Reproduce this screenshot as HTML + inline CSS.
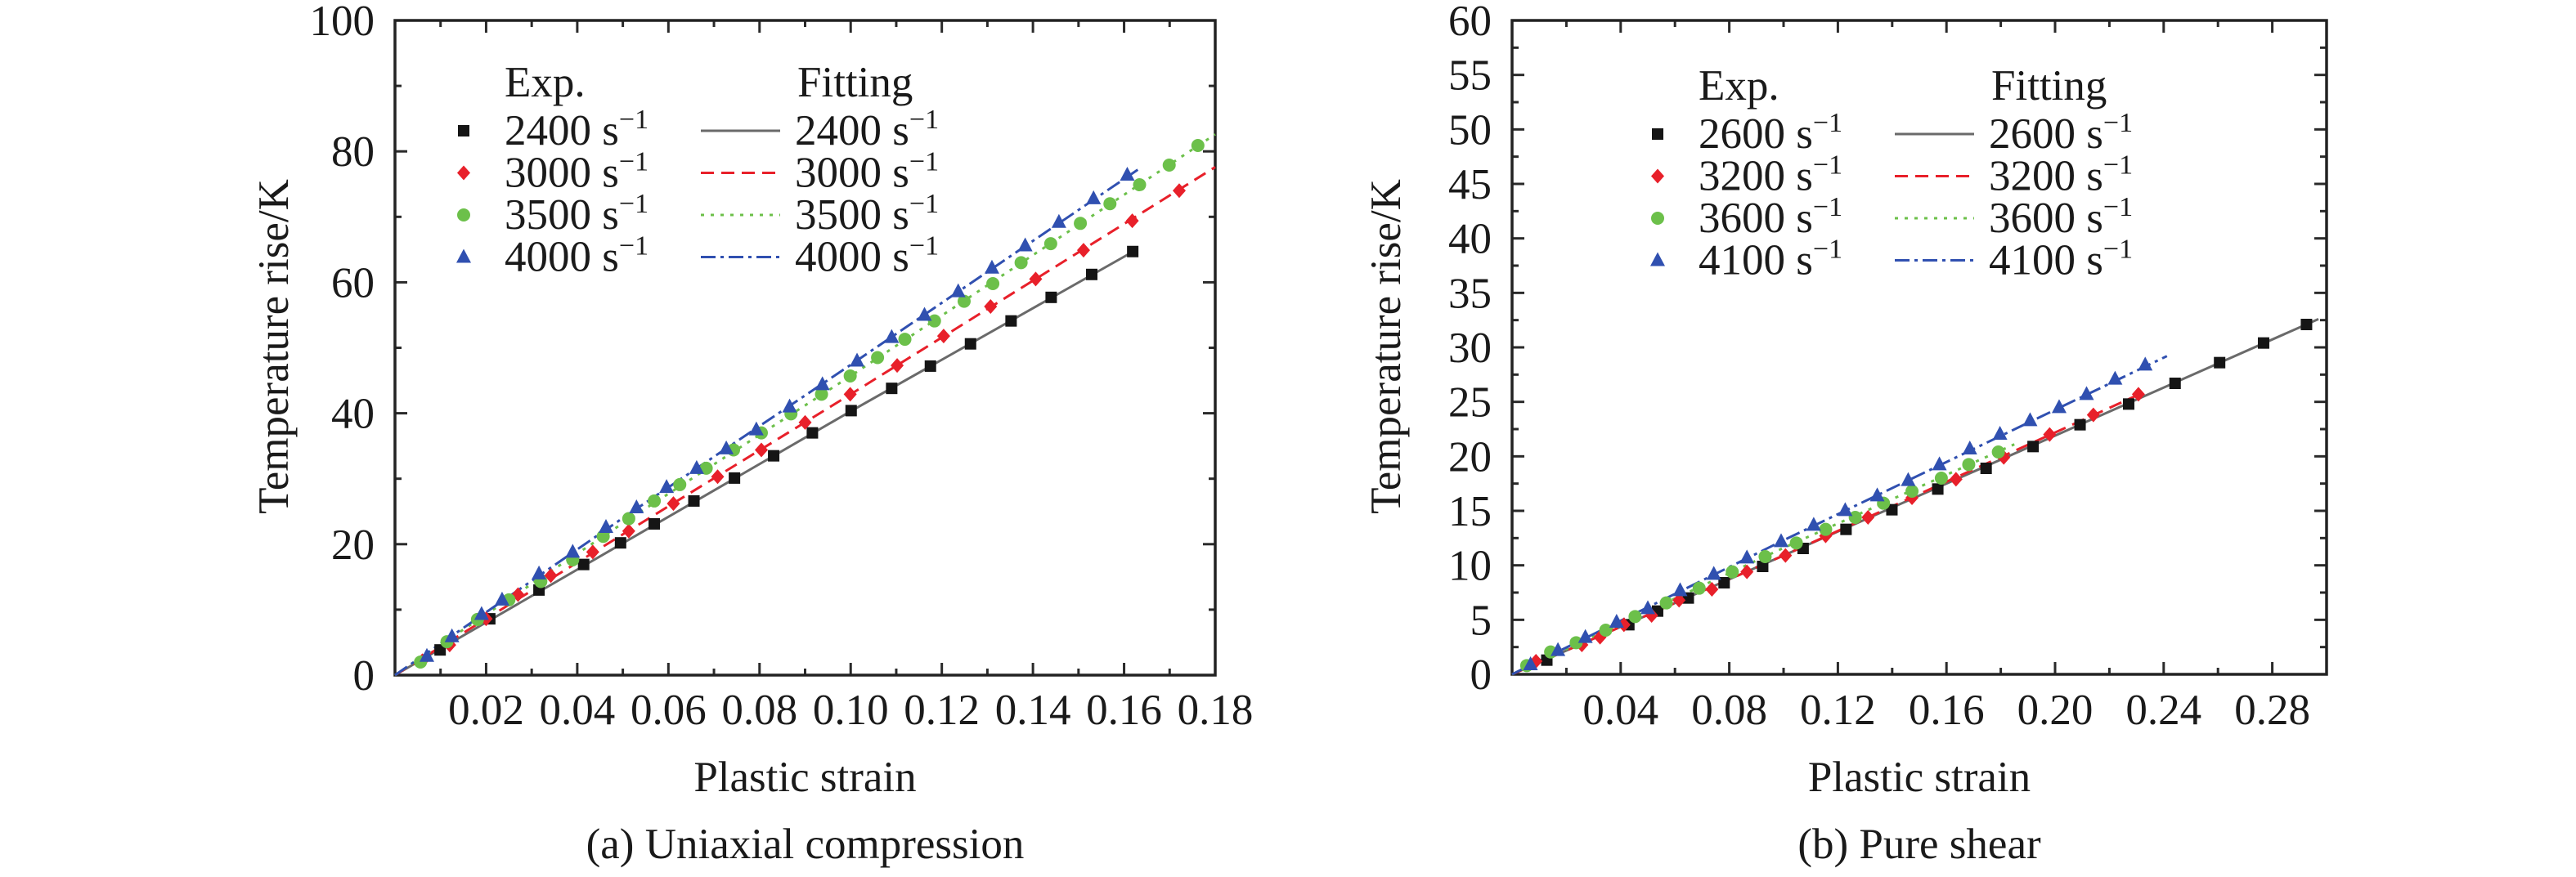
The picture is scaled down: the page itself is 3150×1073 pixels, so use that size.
<!DOCTYPE html>
<html><head><meta charset="utf-8">
<style>
html,body{margin:0;padding:0;background:#fff;}
svg{display:block;}
svg text{font-family:"Liberation Serif","Times New Roman",serif;}
</style></head>
<body>
<svg id="fig" width="3150" height="1073" viewBox="0 0 3150 1073" xmlns="http://www.w3.org/2000/svg" font-family="Liberation Serif, serif">
<rect width="3150" height="1073" fill="#fff"/>
<g id="pa" font-family="Liberation Serif, serif"></g>
<g id="pb" font-family="Liberation Serif, serif"></g>
</svg>
<script>
// ---- Panel (a) data ----
const aXTicks = [0.02,0.04,0.06,0.08,0.10,0.12,0.14,0.16,0.18];
const aXTickLabels = ["0.02","0.04","0.06","0.08","0.10","0.12","0.14","0.16","0.18"];
const aYTicks = [0,20,40,60,80,100];
const aYTickLabels = ["0","20","40","60","80","100"];
const aExp2400 = [[0.0099,3.85],[0.0208,8.6],[0.0316,13.0],[0.0414,16.9],[0.0495,20.2],[0.0569,23.1],[0.0656,26.6],[0.0745,30.1],[0.0831,33.5],[0.0916,37.0],[0.1001,40.4],[0.109,43.8],[0.1175,47.2],[0.1263,50.6],[0.1352,54.1],[0.144,57.7],[0.1529,61.2],[0.1619,64.7]];
const aExp3000 = [[0.006,2.2],[0.012,4.6],[0.02,8.6],[0.027,12.3],[0.0342,15.2],[0.0434,18.8],[0.0513,22.0],[0.0611,26.2],[0.0708,30.3],[0.0804,34.4],[0.09,38.6],[0.0999,42.9],[0.1102,47.3],[0.1204,51.8],[0.1307,56.3],[0.1406,60.5],[0.1511,64.9],[0.1618,69.4],[0.1721,74.0]];
const aExp3500 = [[0.0056,2.0],[0.0114,5.1],[0.0181,8.5],[0.025,11.5],[0.032,14.3],[0.039,17.6],[0.0457,21.2],[0.0513,23.9],[0.0569,26.6],[0.0625,29.1],[0.0683,31.6],[0.0743,34.4],[0.0804,37.0],[0.0869,39.9],[0.0936,42.9],[0.0999,45.7],[0.1059,48.5],[0.1119,51.3],[0.1184,54.1],[0.1249,57.1],[0.1312,59.8],[0.1374,63.0],[0.1439,65.9],[0.1504,69.0],[0.1569,72.0],[0.1634,74.9],[0.1699,77.9],[0.1762,80.9]];
const aExp4000 = [[0.007,2.9],[0.0125,5.9],[0.019,9.3],[0.0235,11.5],[0.0316,15.5],[0.039,18.8],[0.0463,22.6],[0.053,25.6],[0.0596,28.7],[0.0662,31.6],[0.0727,34.6],[0.0793,37.5],[0.0866,41.0],[0.0938,44.4],[0.1014,48.0],[0.109,51.6],[0.1162,55.0],[0.1236,58.6],[0.131,62.2],[0.1383,65.6],[0.1457,69.2],[0.1533,72.8],[0.1607,76.4]];
const aFit2400 = [[0,0],[0.1,40.3],[0.162,64.7]];
const aFit3000 = [[0,0],[0.05,21.5],[0.1,42.9],[0.18,77.6]];
const aFit3500 = [[0,0],[0.05,23.2],[0.1,45.7],[0.18,82.6]];
const aFit4000 = [[0,0],[0.05,24.0],[0.1,47.4],[0.163,77.2]];
const aRates = ["2400","3000","3500","4000"];

// ---- Panel (b) data ----
const bXTicks = [0.04,0.08,0.12,0.16,0.20,0.24,0.28];
const bXTickLabels = ["0.04","0.08","0.12","0.16","0.20","0.24","0.28"];
const bYTicks = [0,5,10,15,20,25,30,35,40,45,50,55,60];
const bYTickLabels = ["0","5","10","15","20","25","30","35","40","45","50","55","60"];
const bExp2600 = [[0.0128,1.3],[0.043,4.55],[0.0536,5.8],[0.0649,7.0],[0.0781,8.4],[0.0923,9.9],[0.1072,11.55],[0.123,13.3],[0.1399,15.1],[0.1568,17.0],[0.1746,18.9],[0.1919,20.9],[0.2092,22.9],[0.2271,24.8],[0.2442,26.7],[0.2606,28.6],[0.2768,30.4],[0.2926,32.1]];
const bExp3200 = [[0.0088,1.2],[0.0257,2.7],[0.0324,3.4],[0.0412,4.55],[0.0514,5.4],[0.0615,6.8],[0.0736,7.8],[0.0865,9.4],[0.1007,10.9],[0.1155,12.7],[0.1311,14.4],[0.1473,16.2],[0.1635,17.9],[0.1811,19.9],[0.198,22.0],[0.2141,23.8],[0.2307,25.7]];
const bExp3600 = [[0.0054,0.8],[0.0142,2.05],[0.0236,2.9],[0.0345,4.05],[0.0453,5.3],[0.0568,6.55],[0.0689,7.9],[0.0811,9.4],[0.0932,10.8],[0.1047,12.05],[0.1155,13.3],[0.1264,14.4],[0.1368,15.7],[0.1473,16.8],[0.1581,18.0],[0.1682,19.25],[0.1791,20.4]];
const bExp4100 = [[0.0068,0.9],[0.0169,2.2],[0.027,3.4],[0.0385,4.8],[0.05,6.05],[0.0619,7.7],[0.0743,9.2],[0.0865,10.7],[0.0991,12.2],[0.1111,13.7],[0.1227,15.05],[0.1345,16.4],[0.1459,17.8],[0.1574,19.25],[0.1686,20.7],[0.1797,22.05],[0.1908,23.3],[0.2015,24.5],[0.2116,25.7],[0.2221,27.1],[0.2332,28.4]];
const bFit2600 = [[0,0],[0.1,10.9],[0.2,21.9],[0.297,32.6]];
const bFit3200 = [[0,0],[0.1,10.9],[0.232,25.8]];
const bFit3600 = [[0,0],[0.1,11.6],[0.185,21.1]];
const bFit4100 = [[0,0],[0.1,12.3],[0.2412,29.2]];
const bRates = ["2600","3200","3600","4100"];

const NS = "http://www.w3.org/2000/svg";
const COLORS = ["#151515","#e8202a","#6cc04a","#3050b0"];
const FITCOL = ["#6a6a6a","#e8202a","#6cc04a","#3050b0"];
const DASH = ["", "16 9", "4 8", "18 6 4 6"];
const FS = 53;
const FF = "Liberation Serif, serif";

function mk(parent, tag, attrs, text){
  const el = document.createElementNS(NS, tag);
  for (const k in attrs) el.setAttribute(k, attrs[k]);
  if (tag === "text") el.setAttribute("font-family", FF);
  if (text !== undefined) el.textContent = text;
  parent.appendChild(el);
  return el;
}

function marker(g, kind, cx, cy, color){
  let el;
  if (kind === 0) el = mk(g,"rect",{x:cx-7,y:cy-7,width:14,height:14,fill:color});
  else if (kind === 1) el = mk(g,"polygon",{points:`${cx},${cy-9} ${cx+8},${cy} ${cx},${cy+9} ${cx-8},${cy}`,fill:color});
  else if (kind === 2) el = mk(g,"circle",{cx:cx,cy:cy,r:8,fill:color});
  else el = mk(g,"polygon",{points:`${cx},${cy-10} ${cx+9},${cy+7} ${cx-9},${cy+7}`,fill:color});
  
  
  return el;
}

function drawPanel(cfg){
  const g = document.getElementById(cfg.id);
  const X = v => cfg.x0 + (v - cfg.xmin)/(cfg.xmax - cfg.xmin)*(cfg.x1 - cfg.x0);
  const Y = v => cfg.y0 - (v - cfg.ymin)/(cfg.ymax - cfg.ymin)*(cfg.y0 - cfg.y1);

  const tg = mk(g,"g",{stroke:"#2a2a2a","stroke-width":3});
  
  
  for (let v = cfg.xmin + cfg.xminor; v < cfg.xmax - 1e-9; v += cfg.xminor){
    const major = Math.abs(Math.round(v/cfg.xmajor)*cfg.xmajor - v) < 1e-9;
    const L = major ? 15 : 8; const x = X(v);
    mk(tg,"line",{x1:x,y1:cfg.y0,x2:x,y2:cfg.y0-L});
    mk(tg,"line",{x1:x,y1:cfg.y1,x2:x,y2:cfg.y1+L});
  }
  for (let v = cfg.ymin + cfg.yminor; v < cfg.ymax - 1e-9; v += cfg.yminor){
    const major = Math.abs(Math.round(v/cfg.ymajor)*cfg.ymajor - v) < 1e-9;
    const L = major ? 15 : 8; const y = Y(v);
    mk(tg,"line",{x1:cfg.x0,y1:y,x2:cfg.x0+L,y2:y});
    mk(tg,"line",{x1:cfg.x1,y1:y,x2:cfg.x1-L,y2:y});
  }
  const frame = mk(g,"rect",{x:cfg.x0,y:cfg.y1,width:cfg.x1-cfg.x0,height:cfg.y0-cfg.y1,fill:"none",stroke:"#222","stroke-width":3.5});
  
  

  cfg.xTicks.forEach((v,i)=>{
    const t = mk(g,"text",{x:X(v),y:886,"font-size":FS,"text-anchor":"middle",fill:"#1a1a1a"},cfg.xLabels[i]);
    
    
  });
  cfg.yTicks.forEach((v,i)=>{
    const t = mk(g,"text",{x:cfg.x0-25,y:Y(v)+18,"font-size":FS,"text-anchor":"end",fill:"#1a1a1a"},cfg.yLabels[i]);
    
    
  });

  cfg.fits.forEach((pts,k)=>{
    const p = mk(g,"polyline",{points:pts.map(q=>X(q[0])+","+Y(q[1])).join(" "),fill:"none",stroke:FITCOL[k],"stroke-width":3,"stroke-dasharray":DASH[k]||"none"});
    
    
  });
  cfg.exps.forEach((pts,k)=>{
    const sg = mk(g,"g",{});
    
    
    pts.forEach(q=>marker(sg,k,X(q[0]),Y(q[1]),COLORS[k]));
  });

  const lg = mk(g,"g",{"font-size":FS,fill:"#1a1a1a","font-family":FF});
  
  
  const h1 = mk(lg,"text",{x:cfg.legX,y:cfg.legY},"Exp.");
  
  
  const h2 = mk(lg,"text",{x:cfg.legX+358,y:cfg.legY},"Fitting");
  
  
  cfg.rates.forEach((r,k)=>{
    const by = cfg.legY + 59 + k*51.5;
    marker(lg,k,cfg.legX-50,by-17,COLORS[k]);
    const t1 = mk(lg,"text",{x:cfg.legX,y:by});
    
    
    t1.textContent = r+" s";
    mk(t1,"tspan",{dy:-20,"font-size":34},"\u22121");
    const ln = mk(lg,"line",{x1:cfg.legX+240,y1:by-17,x2:cfg.legX+337,y2:by-17,stroke:FITCOL[k],"stroke-width":3,"stroke-dasharray":DASH[k]||"none"});
    
    
    const t2 = mk(lg,"text",{x:cfg.legX+355,y:by});
    
    
    t2.textContent = r+" s";
    mk(t2,"tspan",{dy:-20,"font-size":34},"\u22121");
  });

  const cx = (cfg.x0+cfg.x1)/2;
  const xt = mk(g,"text",{x:cx,y:968,"font-size":FS,"text-anchor":"middle",fill:"#1a1a1a"},"Plastic strain");
  
  
  const yt = mk(g,"text",{x:0,y:0,"font-size":FS,"text-anchor":"middle",fill:"#1a1a1a",transform:`translate(${cfg.yTitleX},424) rotate(-90)`},"Temperature rise/K");
  
  
  const cap = mk(g,"text",{x:cx,y:1050,"font-size":FS,"text-anchor":"middle",fill:"#1a1a1a"},cfg.caption);
  
  
}

drawPanel({id:"pa",x0:483,x1:1486,y0:826,y1:25,xmin:0,xmax:0.18,ymin:0,ymax:100,
  xminor:0.01,xmajor:0.02,yminor:10,ymajor:20,
  xTicks:aXTicks,xLabels:aXTickLabels,yTicks:aYTicks,yLabels:aYTickLabels,
  fits:[aFit2400,aFit3000,aFit3500,aFit4000],exps:[aExp2400,aExp3000,aExp3500,aExp4000],
  rates:aRates,legX:617,legY:118,yTitleX:352,caption:"(a) Uniaxial compression"});
drawPanel({id:"pb",x0:1849,x1:2845,y0:825,y1:25,xmin:0,xmax:0.30,ymin:0,ymax:60,
  xminor:0.02,xmajor:0.04,yminor:2.5,ymajor:5,
  xTicks:bXTicks,xLabels:bXTickLabels,yTicks:bYTicks,yLabels:bYTickLabels,
  fits:[bFit2600,bFit3200,bFit3600,bFit4100],exps:[bExp2600,bExp3200,bExp3600,bExp4100],
  rates:bRates,legX:2077,legY:122,yTitleX:1712,caption:"(b) Pure shear"});
</script>
</body></html>
